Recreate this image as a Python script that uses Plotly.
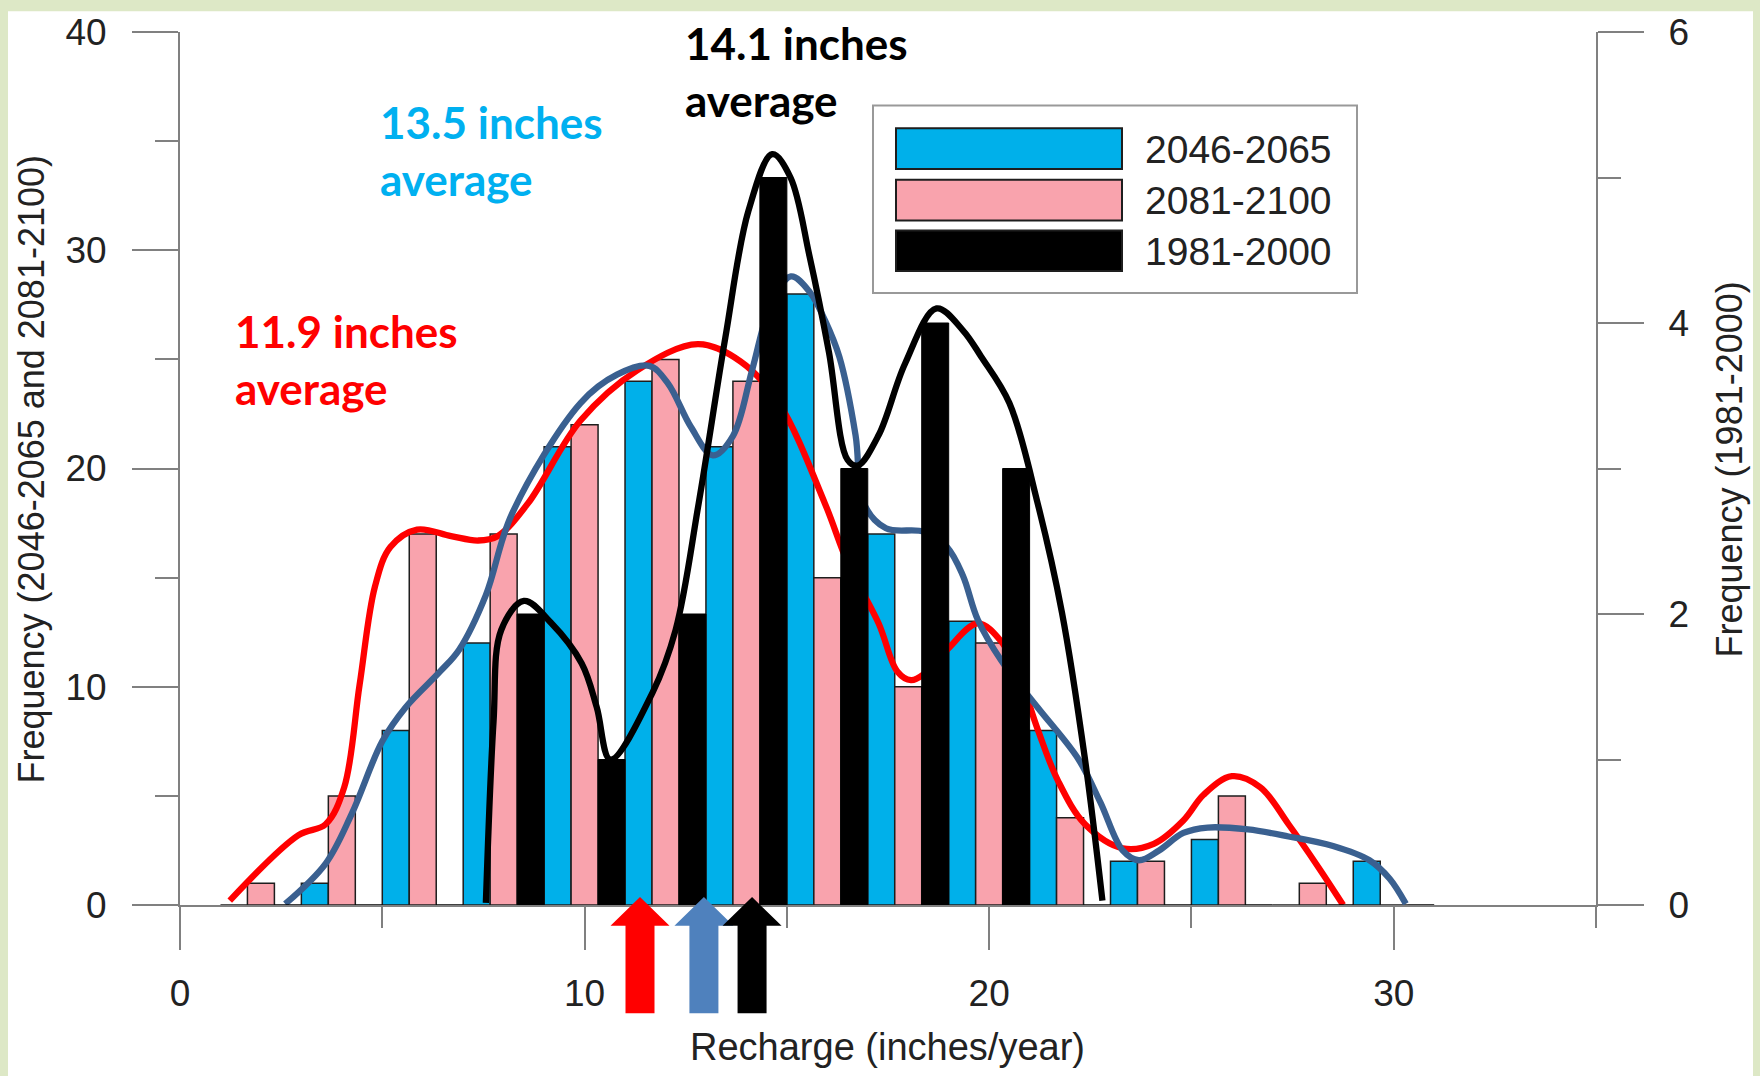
import plotly.graph_objects as go

# ---------------- data ----------------
bin_start = [1, 3, 5, 7, 9, 11, 13, 15, 17, 19, 21, 23, 25, 27, 29]
freq_2046_2065 = [0, 1, 8, 12, 21, 24, 21, 28, 17, 13, 8, 2, 3, 0, 2]
freq_2081_2100 = [1, 5, 17, 17, 22, 25, 24, 15, 10, 12, 4, 2, 5, 1, 0]
freq_1981_2000 = [0, 0, 0, 2, 1, 2, 5, 3, 4, 3, 0, 0, 0, 0, 0]

# smoothed curves
red_x = [1.23, 2.93, 3.6, 4.06, 4.44, 4.82, 5.2, 5.86, 6.7, 7.37, 7.85, 8.6, 9.9, 11.3, 12.8,
         13.86, 14.8, 15.94, 16.5, 17.27, 17.73, 18.07, 18.4, 18.96, 19.72, 20.3, 20.76, 21.2,
         21.7, 22.37, 23.3, 24.07, 24.8, 25.3, 26.0, 26.7, 27.4, 28.15, 28.75]
red_y = [0.2, 3.2, 3.7, 5.4, 10.1, 14.6, 16.4, 17.2, 16.9, 16.7, 16.9, 18.4, 22.2, 24.5, 25.7,
         24.9, 23.0, 18.4, 15.7, 12.9, 10.7, 10.3, 10.6, 11.7, 12.9, 12.07, 10.4, 8.05,
         5.7, 3.7, 2.6, 2.8, 3.87, 5.05, 5.9, 5.4, 3.7, 1.7, 0.0]

blue_x = [2.6, 3.6, 4.25, 5.0, 5.58, 6.43, 6.9, 7.56, 8.2, 9.9, 10.8, 11.6, 12.06, 12.63, 13.17,
          13.67, 14.14, 14.6, 15.1, 15.56, 15.94, 16.3, 16.7, 16.9, 17.45, 18.4, 18.96, 19.35,
          19.72, 20.3, 21.2, 22.2, 22.75, 23.3, 23.7, 24.2, 24.8, 25.4, 26.4, 27.4, 28.5, 29.4,
          29.9, 30.3]
blue_y = [0.05, 1.9, 4.2, 7.5, 9.06, 10.7, 11.7, 14.2, 17.9, 23.0, 24.3, 24.7, 23.9, 21.9, 20.6,
          21.5, 24.5, 27.5, 28.8, 28.1, 26.8, 25.1, 21.5, 18.4, 17.26, 17.1, 16.4, 15.1,
          13.07, 11.2, 9.05, 6.7, 4.7, 2.5, 2.05, 2.5, 3.3, 3.55, 3.46, 3.14, 2.7, 2.05,
          1.2, 0.05]

black_x = [7.56, 7.75, 7.94, 8.5, 9.17, 9.93, 10.3, 10.64, 11.68, 12.25, 12.82, 13.48, 14.05,
           14.64, 15.09, 15.56, 16.04, 16.5, 16.75, 17.27, 17.92, 18.7, 19.35, 19.8, 20.5,
           21.2, 21.8, 22.37, 22.8]
black_y = [0.015, 1.26, 1.89, 2.09, 1.94, 1.66, 1.36, 1.0, 1.46, 1.89, 2.76, 3.9, 4.77,
           5.16, 5.0, 4.46, 3.8, 3.06, 3.02, 3.23, 3.72, 4.1, 3.95, 3.77, 3.45,
           2.76, 2.01, 1.0, 0.03]

# average markers (arrows)
arrow_x = [11.37, 12.95, 14.14]
arrow_colors = ["#FF0000", "#4F81BD", "#000000"]

series_names = ["2046-2065", "2081-2100", "1981-2000"]
avg_labels = ["11.9 inches<br>average", "13.5 inches<br>average", "14.1 inches<br>average"]

x_ticks = [0, 10, 20, 30]

# ---------------- style / layout ----------------
W, H = 1760, 1076
ML, MR, MT, MB = 180, 164, 25, 171
PW = W - ML - MR
PH = H - MT - MB
XMAX = 35


def pxx(X):
    return (X - ML) / PW


def pxy(Y):
    return (H - MB - Y) / PH


C_BLUE = "#00B0EA"
C_PINK = "#F9A3AD"
C_BLUE_LINE = "#3A6090"
AX_COL = "#808080"
TXT = "#222222"
FONT = "Liberation Sans, Arial, sans-serif"
BOLD = "Lato, Carlito, Calibri, sans-serif"
LW = 6.3

fig = go.Figure()

bw = 2 / 3
fig.add_trace(go.Bar(x=bin_start, y=freq_2046_2065, width=bw, offset=0,
                     marker=dict(color=C_BLUE, line=dict(color="#1e1e1e", width=1.5)),
                     name=series_names[0], yaxis="y"))
fig.add_trace(go.Bar(x=bin_start, y=freq_2081_2100, width=bw, offset=bw,
                     marker=dict(color=C_PINK, line=dict(color="#1e1e1e", width=1.5)),
                     name=series_names[1], yaxis="y"))
fig.add_trace(go.Bar(x=bin_start, y=freq_1981_2000, width=bw, offset=2 * bw,
                     marker=dict(color="#000000", line=dict(color="#000000", width=1)),
                     name=series_names[2], yaxis="y2"))

fig.add_trace(go.Scatter(x=red_x, y=red_y, mode="lines", yaxis="y",
                         line=dict(color="#FF0000", width=LW, shape="spline", smoothing=1.0)))
fig.add_trace(go.Scatter(x=blue_x, y=blue_y, mode="lines", yaxis="y",
                         line=dict(color=C_BLUE_LINE, width=LW, shape="spline", smoothing=1.0)))
fig.add_trace(go.Scatter(x=black_x, y=black_y, mode="lines", yaxis="y2",
                         line=dict(color="#000000", width=LW, shape="spline", smoothing=1.0)))

shapes = []
# white page area inside green border
shapes.append(dict(type="rect", xref="paper", yref="paper", layer="below",
                   x0=pxx(8), x1=pxx(1753), y0=pxy(H + 5), y1=pxy(4),
                   fillcolor="white", line=dict(width=0)))

# arrows (below the axis)
upx = PW / XMAX
head_w = 59 / upx
shaft_w = 29 / upx
y_tip, y_base, y_bot = pxy(897), pxy(926), pxy(1014)
for ax_, col in zip(arrow_x, arrow_colors):
    path = (f"M {ax_ - shaft_w/2} {y_bot} L {ax_ - shaft_w/2} {y_base} L {ax_ - head_w/2} {y_base} "
            f"L {ax_} {y_tip} L {ax_ + head_w/2} {y_base} L {ax_ + shaft_w/2} {y_base} "
            f"L {ax_ + shaft_w/2} {y_bot} Z")
    shapes.append(dict(type="path", xref="x", yref="paper", path=path, layer="above",
                       fillcolor=col, line=dict(width=0)))

# custom legend
shapes.append(dict(type="rect", xref="paper", yref="paper", layer="above",
                   x0=pxx(873), x1=pxx(1357), y0=pxy(288), y1=pxy(99),
                   fillcolor="white", line=dict(color="#999999", width=2)))
sw_cols = [C_BLUE, C_PINK, "#000000"]
sw_tops = [122, 174, 225]
annotations = []
for col, top, nm in zip(sw_cols, sw_tops, series_names):
    shapes.append(dict(type="rect", xref="paper", yref="paper", layer="above",
                       x0=pxx(896), x1=pxx(1122), y0=pxy(top + 41), y1=pxy(top),
                       fillcolor=col, line=dict(color="#1e1e1e", width=2)))
    annotations.append(dict(xref="paper", yref="paper", x=pxx(1143), y=pxy(top + 21),
                            xanchor="left", yanchor="middle", showarrow=False, text=nm,
                            font=dict(family=FONT, size=39, color=TXT)))

# average labels
lab_pos = [(233, 298), (378, 87), (683, 8)]
lab_col = ["#FF0000", "#00B0F0", "#000000"]
for (lx, ly), txt, col in zip(lab_pos, avg_labels, lab_col):
    annotations.append(dict(xref="paper", yref="paper", x=pxx(lx), y=pxy(ly),
                            xanchor="left", yanchor="top", align="left", showarrow=False,
                            text=f"<b>{txt}</b>",
                            font=dict(family=BOLD, size=44, color=col)))

# axis titles
annotations.append(dict(xref="paper", yref="paper", x=pxx(31), y=pxy(466), textangle=-90,
                        xanchor="center", yanchor="middle", showarrow=False,
                        text="Frequency (2046-2065 and 2081-2100)",
                        font=dict(family=FONT, size=36, color=TXT)))
annotations.append(dict(xref="paper", yref="paper", x=pxx(1729), y=pxy(466), textangle=-90,
                        xanchor="center", yanchor="middle", showarrow=False,
                        text="Frequency (1981-2000)",
                        font=dict(family=FONT, size=36, color=TXT)))
annotations.append(dict(xref="paper", yref="paper", x=pxx(887), y=pxy(1048),
                        xanchor="center", yanchor="middle", showarrow=False,
                        text="Recharge (inches/year)",
                        font=dict(family=FONT, size=38, color=TXT)))

tickfont = dict(family=FONT, size=37, color=TXT)
fig.update_layout(
    width=W, height=H,
    margin=dict(l=ML, r=MR, t=MT, b=MB, pad=0),
    paper_bgcolor="#DDE8C6",
    plot_bgcolor="rgba(0,0,0,0)",
    barmode="overlay",
    showlegend=False,
    shapes=shapes,
    annotations=annotations,
    xaxis=dict(range=[0, XMAX], tickvals=x_ticks, ticks="outside", ticklen=43, tickwidth=2,
               tickcolor=AX_COL, showline=True, linecolor=AX_COL, linewidth=2,
               showgrid=False, zeroline=False, tickfont=tickfont, ticklabelstandoff=12,
               minor=dict(dtick=5, tick0=0, ticks="outside", ticklen=21, tickwidth=2,
                          tickcolor=AX_COL, showgrid=False)),
    yaxis=dict(range=[0, 40], dtick=10, tick0=0, ticks="outside", ticklen=46, tickwidth=2,
               tickcolor=AX_COL, showline=True, linecolor=AX_COL, linewidth=2,
               showgrid=False, zeroline=False, tickfont=tickfont, ticklabelstandoff=18,
               minor=dict(dtick=5, tick0=0, ticks="outside", ticklen=23, tickwidth=2,
                          tickcolor=AX_COL, showgrid=False)),
    yaxis2=dict(range=[0, 6], dtick=2, tick0=0, overlaying="y", side="right", ticks="outside",
                ticklen=46, tickwidth=2, tickcolor=AX_COL, showline=True, linecolor=AX_COL,
                linewidth=2, showgrid=False, zeroline=False, tickfont=tickfont,
                ticklabelstandoff=17,
                minor=dict(dtick=1, tick0=0, ticks="outside", ticklen=23, tickwidth=2,
                           tickcolor=AX_COL, showgrid=False)),
)

fig.write_html("out.html", config={"displayModeBar": False},
               post_script="document.body.style.margin='0';document.body.style.overflow='hidden';")
